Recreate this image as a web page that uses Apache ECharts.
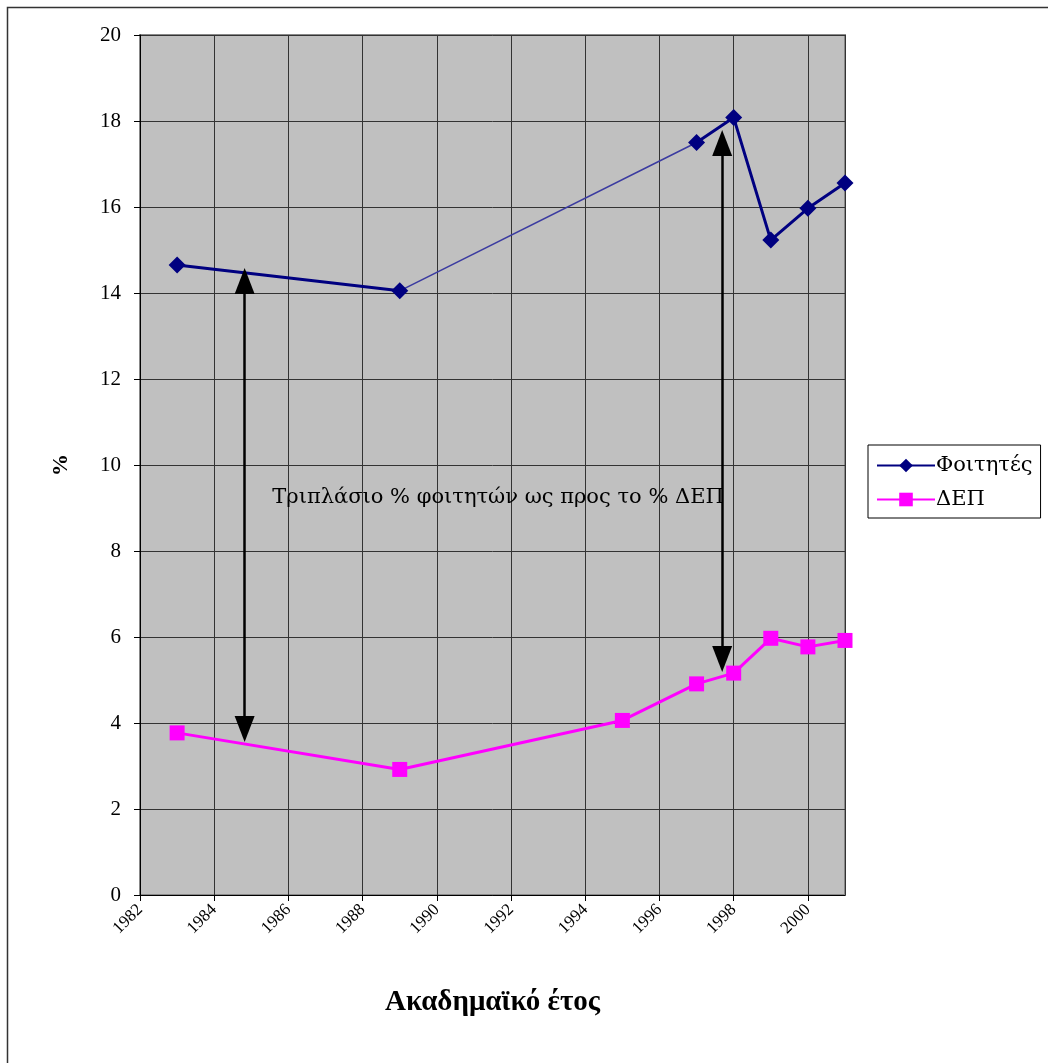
<!DOCTYPE html>
<html>
<head>
<meta charset="utf-8">
<script src="https://cdn.jsdelivr.net/npm/echarts@6/dist/echarts.min.js"></script>
<style>
html, body { margin: 0; padding: 0; background: #fff; }
#chart { width: 1048px; height: 1063px; }
</style>
</head>
<body>
<div id="chart"></div>
<script>
// ακαδημαϊκά έτη και τιμές (%)
var years = [1983, 1989, 1995, 1997, 1998, 1999, 2000, 2001];
var foitites = [14.65, 14.05, null, 17.5, 18.08, 15.23, 15.97, 16.56];
var dep = [3.77, 2.92, 4.06, 4.91, 5.16, 5.97, 5.77, 5.92];
// λεπτή γραμμή σύνδεσης 1989 - 1997
var gapYears = [1989, 1997];
var gapValues = [14.05, 17.5];
// βέλη σχολίου
var arrowA = [[1984.82, 14.28], [1984.82, 3.86]];
var arrowB = [[1997.69, 17.49], [1997.69, 5.49]];
var noteText = "Τριπλάσιο % φοιτητών ως προς το % ΔΕΠ";
var notePos = [1991.65, 9.25];

var font = "'Liberation Serif', 'DejaVu Serif', serif";
var wideFont = "'DejaVu Serif', 'Liberation Serif', serif";

function pairs(xs, ys) {
	var out = [];
	xs.forEach(function(x, i){
		out.push([x, ys[i]]);
	});
	return out;
}

var voChart = echarts.init(document.getElementById("chart"));

var voOption = {
	animation: false,
	backgroundColor: "#fff",
	textStyle: { fontFamily: font },
	graphic: [{
		type: "rect",
		shape: { x: 7.5, y: 7.5, width: 1100, height: 1100 },
		style: { fill: "none", stroke: "#333", lineWidth: 1.5 }
	}],
	grid: {
		left: 140, top: 35, width: 705, height: 860,
		show: true,
		backgroundColor: "#c0c0c0",
		borderColor: "#888",
		borderWidth: 2
	},
	legend: {
		data: ["Φοιτητές", "ΔΕΠ"],
		orient: "vertical",
		left: 868, top: 445,
		padding: [10, 8, 8, 8],
		itemGap: 13,
		itemWidth: 58,
		itemHeight: 17,
		borderColor: "#000",
		borderWidth: 1,
		backgroundColor: "#fff",
		textStyle: { fontFamily: wideFont, fontSize: 21, color: "#000", padding: [0, 0, 0, -4] }
	},
	xAxis: {
		type: "value",
		min: 1982, max: 2001, interval: 2,
		name: "Ακαδημαϊκό έτος",
		nameLocation: "middle",
		nameGap: 93,
		nameTextStyle: { fontFamily: font, fontSize: 29, fontWeight: "bold", color: "#000" },
		axisLine: { onZero: false, lineStyle: { color: "#000", width: 1 } },
		axisTick: { show: true, length: 6, lineStyle: { color: "#000" } },
		axisLabel: {
			rotate: 45, fontSize: 17, color: "#000", margin: 12,
			showMaxLabel: false,
			formatter: function(v){ return v % 2 === 0 ? String(v) : ""; }
		},
		splitLine: { show: true, lineStyle: { color: "#333", width: 1 } }
	},
	yAxis: {
		type: "value",
		min: 0, max: 20, interval: 2,
		name: "%",
		nameLocation: "middle",
		nameGap: 68,
		nameRotate: 90,
		nameTextStyle: { fontFamily: font, fontSize: 22, fontWeight: "bold", color: "#000" },
		axisLine: { show: true, lineStyle: { color: "#000", width: 1 } },
		axisTick: { show: true, length: 6, lineStyle: { color: "#000" } },
		axisLabel: { fontSize: 21, color: "#000", margin: 19 },
		splitLine: { show: true, lineStyle: { color: "#333", width: 1 } }
	},
	series: [
		{
			name: "gap",
			type: "line",
			data: pairs(gapYears, gapValues),
			symbol: "none",
			lineStyle: { color: "#3a3aa0", width: 1.5 },
			silent: true,
			z: 2
		},
		{
			name: "Φοιτητές",
			type: "line",
			data: pairs(years, foitites),
			connectNulls: false,
			symbol: "diamond",
			symbolSize: 17,
			itemStyle: { color: "#000080" },
			lineStyle: { color: "#000080", width: 3 },
			z: 3
		},
		{
			name: "ΔΕΠ",
			type: "line",
			data: pairs(years, dep),
			symbol: "rect",
			symbolSize: 15,
			itemStyle: { color: "#ff00ff" },
			lineStyle: { color: "#ff00ff", width: 3 },
			z: 3
		},
		{
			name: "notes",
			type: "line",
			data: [],
			silent: true,
			z: 4,
			markLine: {
				silent: true,
				symbol: ["triangle", "triangle"],
				symbolSize: [20, 26],
				label: { show: false },
				lineStyle: { color: "#000", width: 2.5, type: "solid" },
				itemStyle: { color: "#000" },
				emphasis: { disabled: true },
				data: [
					[{ coord: arrowA[0] }, { coord: arrowA[1] }],
					[{ coord: arrowB[0] }, { coord: arrowB[1] }]
				]
			},
			markPoint: {
				silent: true,
				symbol: "rect",
				symbolSize: 1,
				itemStyle: { color: "rgba(0,0,0,0)" },
				label: {
					show: true,
					position: "inside",
					formatter: noteText,
					fontFamily: wideFont,
					fontSize: 21,
					color: "#000"
				},
				data: [{ coord: notePos }]
			}
		}
	]
};

voChart.setOption(voOption);
</script>
</body>
</html>
